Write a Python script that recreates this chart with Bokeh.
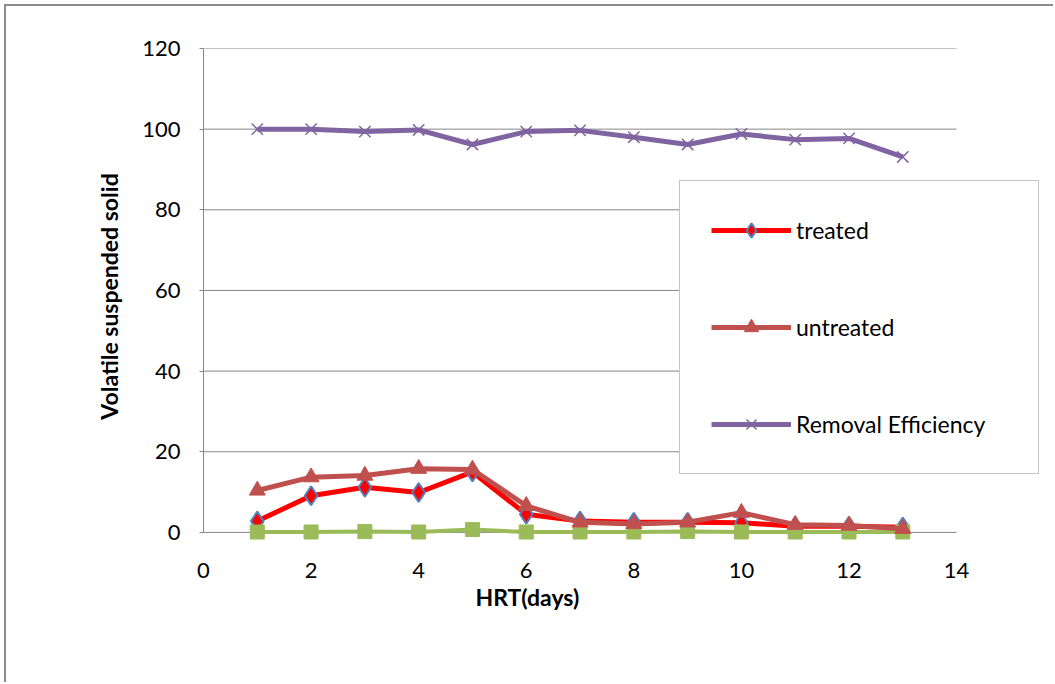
from bokeh.plotting import figure
from bokeh.models import Legend, LegendItem, FixedTicker, ColumnDataSource, Title
from bokeh.embed import file_html
from bokeh.resources import INLINE

hrt = [1, 2, 3, 4, 5, 6, 7, 8, 9, 10, 11, 12, 13]
treated = [2.8, 9.1, 11.2, 9.9, 15.0, 4.5, 2.8, 2.5, 2.5, 2.4, 1.5, 1.5, 1.3]
untreated = [10.4, 13.7, 14.1, 15.8, 15.6, 6.6, 2.5, 2.1, 2.5, 4.9, 1.9, 1.7, 0.9]
removal = [100.0, 100.0, 99.4, 99.8, 96.2, 99.4, 99.7, 98.0, 96.2, 98.8, 97.4, 97.7, 93.1]
other = [0.1, 0.1, 0.2, 0.1, 0.7, 0.1, 0.1, 0.1, 0.2, 0.1, 0.1, 0.1, 0.1]
x_ticks = [0, 2, 4, 6, 8, 10, 12, 14]
y_ticks = [0, 20, 40, 60, 80, 100, 120]

FONT = "Lato"
GRAY = "#868686"

# frame extends a little beyond the 0..14 / 0..120 box so markers near zero and the
# legend box are not clipped; the axis line and grid lines are limited to the tick range
p = figure(width=1049, height=678, output_backend="svg", toolbar_location=None,
           x_range=(0, 15.56), y_range=(-3, 120),
           min_border_left=197, min_border_right=15, min_border_top=42, min_border_bottom=140)
p.styles = {"margin-left": "4px", "margin-top": "4px",
            "border-left": "2px solid #8c8c8c", "border-top": "2px solid #8c8c8c"}
p.outline_line_color = None
p.background_fill_color = "white"
p.border_fill_color = "white"

p.xgrid.grid_line_color = None
p.ygrid.grid_line_color = None

grid_src = ColumnDataSource(dict(x0=[x_ticks[0]] * len(y_ticks), x1=[x_ticks[-1]] * len(y_ticks),
                                 y=y_ticks))
p.segment(x0="x0", x1="x1", y0="y", y1="y", source=grid_src, line_color=GRAY, line_width=1,
          level="underlay")

p.xaxis.ticker = FixedTicker(ticks=x_ticks)
p.yaxis.ticker = FixedTicker(ticks=y_ticks)
p.xaxis.bounds = (x_ticks[0], x_ticks[-1])
p.yaxis.bounds = (y_ticks[0], y_ticks[-1])
for ax in (p.xaxis[0], p.yaxis[0]):
    ax.axis_line_color = GRAY
    ax.axis_line_width = 1
    ax.major_tick_line_color = GRAY
    ax.minor_tick_line_color = None
    ax.major_tick_in = 0
    ax.major_label_text_font = FONT
    ax.major_label_text_font_size = "22px"
    ax.major_label_text_color = "#000000"

# x axis sits at the frame bottom (y=-3); its visible line is the y=0 grid line
p.xaxis.axis_line_color = None
p.xaxis.major_tick_line_color = None
p.xaxis.major_tick_out = 0
p.xaxis.major_label_standoff = 18
p.yaxis.major_tick_out = 4
p.yaxis.major_label_standoff = 19
p.yaxis.axis_label = "Volatile suspended solid"
p.yaxis.axis_label_standoff = 16
p.yaxis.axis_label_text_font = FONT
p.yaxis.axis_label_text_font_size = "23px"
p.yaxis.axis_label_text_font_style = "bold"
p.yaxis.axis_label_text_color = "#000000"

xt = Title(text="HRT(days)", align="left", offset=272, text_font=FONT, text_font_size="23px",
           text_font_style="bold", text_color="#000000", standoff=0)
p.add_layout(xt, "below")

src = ColumnDataSource(dict(x=hrt, t=treated, u=untreated, r=removal, o=other))

tl = p.line("x", "t", source=src, line_color="#FF0000", line_width=5)
ts = p.scatter("x", "t", source=src, marker="diamond", size=19, fill_color="#FF0000",
               line_color="#4F81BD", line_width=2)

gl = p.line("x", "o", source=src, line_color="#9BBB59", line_width=4)
gs = p.scatter("x", "o", source=src, marker="square", size=14, fill_color="#9BBB59",
               line_color="#9BBB59")

ul = p.line("x", "u", source=src, line_color="#C0504D", line_width=5)
us = p.scatter("x", "u", source=src, marker="triangle", size=16, fill_color="#C0504D",
               line_color="#C0504D")

rl = p.line("x", "r", source=src, line_color="#8064A2", line_width=5)
rs = p.scatter("x", "r", source=src, marker="x", size=16, line_color="#8064A2", line_width=1.5)

legend = Legend(items=[
    LegendItem(label="treated", renderers=[tl, ts]),
    LegendItem(label="untreated", renderers=[ul, us]),
    LegendItem(label="Removal Efficiency", renderers=[rl, rs]),
], location=(476, 70), orientation="vertical")
legend.padding = 31
legend.spacing = 61
legend.glyph_width = 80
legend.glyph_height = 36
legend.label_height = 36
legend.label_width = 211
legend.label_standoff = 5
legend.label_text_font = FONT
legend.label_text_font_size = "23px"
legend.label_text_color = "#000000"
legend.border_line_color = "#8c8c8c"
legend.border_line_width = 1.5
legend.background_fill_color = "white"
legend.background_fill_alpha = 1
legend.margin = 0
p.add_layout(legend, "center")

open("out.html", "w").write(file_html(p, INLINE))
